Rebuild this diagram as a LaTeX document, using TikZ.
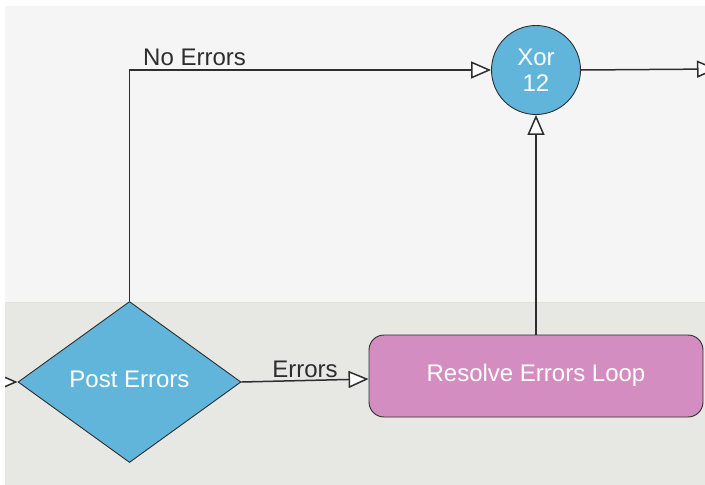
\documentclass[tikz,border=0pt]{standalone}
\usepackage{fontspec}
\setmainfont{Liberation Sans}
\usetikzlibrary{shapes.geometric,arrows.meta}
\definecolor{laneTop}{HTML}{F5F5F5}
\definecolor{laneBottom}{HTML}{E7E8E3}
\definecolor{laneLine}{HTML}{E0E0DC}
\definecolor{gateBlue}{HTML}{62B5DA}
\definecolor{taskPink}{HTML}{D38DC0}
\definecolor{flowGray}{HTML}{2E2E2E}
\begin{document}
\begin{tikzpicture}[x=1pt,y=-1pt,
    every node/.style={font=\fontsize{24}{28}\selectfont},
    gate/.style={draw=flowGray,fill=gateBlue,text=white,line width=0.9pt,inner sep=0pt},
    oneline/.style={text height=18pt,text depth=8pt},
    flow/.style={draw=flowGray,line width=1.5pt,-{Triangle[length=20pt,width=17pt,fill=white]}},
    flowlabel/.style={text=flowGray,inner sep=0pt}]
    \useasboundingbox (0,0) rectangle (705,485);
    \begin{scope}
        \clip (5,6) rectangle (705,485);
        %% lanes
        \fill[laneTop] (5,6) rectangle (705,302);
        \fill[laneBottom] (5,302) rectangle (705,485);
        \draw[laneLine,line width=0.8pt] (5,302) -- (705,302);
        %% Gateway/Task/Join
        \node[gate,oneline,diamond,minimum width=223pt,minimum height=161pt] (post) at (129.5,382) {Post Errors};
        \node[gate,oneline,fill=taskPink,rectangle,rounded corners=15pt,minimum width=334pt,minimum height=82pt] (resolve) at (536,376) {Resolve Errors Loop};
        \node[gate,circle,minimum size=89pt,align=center] (xor) at (536,70) {Xor\\[-2pt]12};
        \coordinate (in) at (-2,382);
        \coordinate (out) at (717,69);
        %% flows
        \draw[flow] (in) -- (post.west);
        \draw[flow] (post.north) |- (xor.west);
        \draw[flow] (post.east) -- ([yshift=-3pt]resolve.west);
        \draw[flow] (resolve.north) -- (xor.south);
        \draw[flow] (xor.east) -- (out);
        %% labels
        \node[flowlabel,anchor=base west] (noerr) at (143,65) {No Errors};
        \node[flowlabel,anchor=base] (err) at (305,377) {Errors};
    \end{scope}
\end{tikzpicture}
\end{document}
